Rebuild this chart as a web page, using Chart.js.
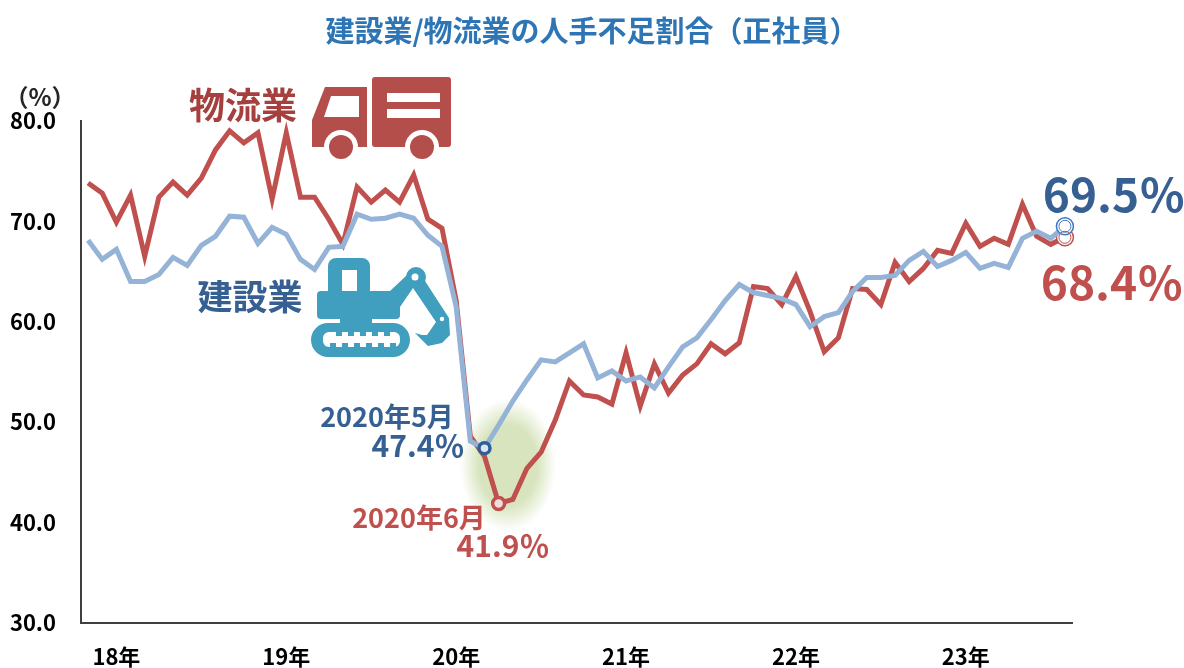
<!DOCTYPE html>
<html lang="ja">
<head>
<meta charset="utf-8">
<title>建設業/物流業の人手不足割合（正社員）</title>
<script src="https://cdn.jsdelivr.net/npm/chart.js@4"></script>
<style>
    html, body { margin: 0; padding: 0; background: #fff; }
    canvas { display: block; }
</style>
</head>
<body>
<canvas id="chart" width="1184" height="668"></canvas>
<script>
const years = ['18', '19', '20', '21', '22', '23'];
const months = [1, 2, 3, 4, 5, 6, 7, 8, 9, 10, 11, 12];
const categories = years.flatMap(y => months.map(m => `${y}年${m}月`)).slice(0, 70);

const logistics = [
    73.8, 72.8, 69.9, 72.6, 66.5, 72.4, 73.9, 72.6, 74.3, 77.1, 79.0, 77.8,
    78.8, 72.2, 78.8, 72.4, 72.4, 70.2, 67.7, 73.4, 71.9, 73.1, 71.9, 74.6,
    70.2, 69.3, 62.1, 48.6, 46.6, 41.9, 42.3, 45.4, 47.0, 50.2, 54.1, 52.7,
    52.5, 51.8, 56.9, 51.6, 55.8, 52.9, 54.7, 55.8, 57.8, 56.8, 57.9, 63.5,
    63.3, 61.7, 64.5, 61.0, 57.0, 58.4, 63.3, 63.2, 61.7, 65.9, 64.0, 65.3,
    67.1, 66.8, 69.8, 67.5, 68.3, 67.7, 71.7, 68.5, 67.7, 68.4
];
const construction = [
    68.1, 66.2, 67.2, 64.0, 64.0, 64.7, 66.4, 65.6, 67.6, 68.5, 70.5, 70.4,
    67.8, 69.4, 68.7, 66.2, 65.2, 67.4, 67.5, 70.7, 70.2, 70.3, 70.7, 70.3,
    68.6, 67.5, 61.5, 48.1, 47.4, 49.7, 52.1, 54.2, 56.2, 56.0, 56.9, 57.8,
    54.4, 55.1, 54.1, 54.5, 53.4, 55.5, 57.5, 58.4, 60.2, 62.1, 63.7, 62.9,
    62.6, 62.3, 61.7, 59.5, 60.5, 60.9, 63.0, 64.4, 64.4, 64.6, 66.1, 67.0,
    65.5, 66.1, 66.9, 65.3, 65.8, 65.4, 68.3, 69.0, 68.3, 69.5
];

const RED = '#c0504d';
const BLUE = '#95b3d7';
const DARK_BLUE = '#376092';
const FONT = '"Noto Sans CJK JP", "Noto Sans", sans-serif';
const LOW_LOGISTICS = logistics.indexOf(41.9);
const LOW_CONSTRUCTION = construction.indexOf(47.4);
const LAST = categories.length - 1;

// free text on the chart: [text, x, y, size, colour]
const notes = [
    ['（%）', 40, 97, 24, '#262626'],
    ['物流業', 243, 105, 36, '#a5403e'],
    ['建設業', 250, 297, 35, DARK_BLUE],
    ['2020年5月', 387, 417, 27, DARK_BLUE],
    ['47.4％', 418, 446, 30, DARK_BLUE],
    ['2020年6月', 419, 518, 27, RED],
    ['41.9％', 503, 546, 30, RED],
    ['69.5％', 1114, 195, 46, DARK_BLUE],
    ['68.4％', 1112, 283, 46, RED]
];

function polygon(ctx, pts) {
    ctx.beginPath();
    pts.forEach(([x, y], i) => i ? ctx.lineTo(x, y) : ctx.moveTo(x, y));
    ctx.closePath();
    ctx.fill();
}

function circle(ctx, x, y, r) {
    ctx.beginPath();
    ctx.arc(x, y, r, 0, Math.PI * 2);
    ctx.fill();
}

function drawTruck(ctx) {
    ctx.fillStyle = '#b44e4b';
    ctx.beginPath();
    ctx.roundRect(372, 77, 79, 70, 3);
    ctx.fill();
    polygon(ctx, [[325, 87], [367, 87], [367, 147], [312, 147], [312, 120]]);

    ctx.fillStyle = '#fff';
    ctx.fillRect(387, 93, 53, 9);
    ctx.fillRect(387, 109, 53, 9);
    polygon(ctx, [[331, 96], [359, 96], [359, 117], [324, 117]]);

    [341, 422].forEach(x => {
        ctx.fillStyle = '#fff';
        circle(ctx, x, 147, 17);
        ctx.fillStyle = '#b44e4b';
        circle(ctx, x, 147, 12);
    });
}

function drawExcavator(ctx) {
    const c = '#409fbf';
    ctx.fillStyle = c;
    ctx.beginPath();
    ctx.roundRect(328, 258, 42, 40, 8);
    ctx.fill();
    ctx.beginPath();
    ctx.roundRect(317, 291, 83, 28, 4);
    ctx.fill();
    ctx.fillRect(340, 317, 32, 7);
    ctx.beginPath();
    ctx.roundRect(311, 323, 99, 34, 17);
    ctx.fill();

    // boom, arm and bucket
    polygon(ctx, [[390, 291], [407, 275], [416, 268], [425, 281], [449, 318], [450, 335], [442, 343],
        [428, 346], [415, 333], [422, 335], [427, 335], [436, 322], [413, 288], [400, 307], [396, 300]]);
    circle(ctx, 416, 277, 10);
    circle(ctx, 442, 319, 6);

    ctx.fillStyle = '#fff';
    ctx.fillRect(342, 270, 15, 21);
    ctx.beginPath();
    ctx.roundRect(323, 332, 77, 15, 6);
    ctx.fill();
    circle(ctx, 415, 277, 3.5);
    circle(ctx, 442, 319, 2.2);

    ctx.fillStyle = c;
    for (let x = 336; x < 395; x += 12) ctx.fillRect(x, 332, 6, 4);
    for (let x = 330; x < 395; x += 12) ctx.fillRect(x, 343, 6, 4);
}

const decorations = {
    id: 'decorations',
    beforeDatasetsDraw(chart) {
        const ctx = chart.ctx;
        // green glow behind the low point
        ctx.save();
        ctx.translate(508, 465);
        ctx.scale(1, 1.38);
        const glow = ctx.createRadialGradient(0, 0, 0, 0, 0, 48);
        glow.addColorStop(0, '#d7e4bd');
        glow.addColorStop(0.6, '#d7e4bd');
        glow.addColorStop(1, 'rgba(215,228,189,0)');
        ctx.fillStyle = glow;
        ctx.beginPath();
        ctx.arc(0, 0, 48, 0, Math.PI * 2);
        ctx.fill();
        ctx.restore();
        ctx.save();
        drawTruck(ctx);
        drawExcavator(ctx);
        ctx.restore();
    },
    afterDatasetsDraw(chart) {
        const ctx = chart.ctx;
        // inner ring of the two end markers
        [[1, '#c0504d'], [0, '#3f78c0']].forEach(([i, colour]) => {
            const p = chart.getDatasetMeta(i).data[LAST];
            ctx.save();
            ctx.strokeStyle = colour;
            ctx.lineWidth = 1;
            ctx.beginPath();
            ctx.arc(p.x, p.y, 6, 0, Math.PI * 2);
            ctx.stroke();
            ctx.restore();
        });
        ctx.save();
        ctx.textBaseline = 'middle';
        ctx.textAlign = 'center';
        notes.forEach(([text, x, y, size, colour]) => {
            ctx.font = `bold ${size}px ${FONT}`;
            ctx.fillStyle = colour;
            ctx.fillText(text, x, y);
        });
        ctx.restore();
    }
};

new Chart(document.getElementById('chart'), {
    type: 'line',
    data: {
        labels: categories,
        datasets: [
            {
                label: '建設業',
                data: construction,
                order: 1,
                borderColor: BLUE,
                borderWidth: 5,
                tension: 0,
                borderJoinStyle: 'miter',
                pointRadius: ctx => ctx.dataIndex === LOW_CONSTRUCTION ? 5.5 : ctx.dataIndex === LAST ? 8.5 : 0,
                pointBorderWidth: ctx => ctx.dataIndex === LAST ? 1.5 : 3.5,
                pointBorderColor: ctx => ctx.dataIndex === LAST ? '#3f78c0' : '#2f5f98',
                pointBackgroundColor: ctx => ctx.dataIndex === LAST ? '#fff' : '#dce6f2'
            },
            {
                label: '物流業',
                data: logistics,
                order: 2,
                borderColor: RED,
                borderWidth: 5,
                tension: 0,
                borderJoinStyle: 'miter',
                pointRadius: ctx => ctx.dataIndex === LOW_LOGISTICS ? 6 : ctx.dataIndex === LAST ? 8.5 : 0,
                pointBorderWidth: ctx => ctx.dataIndex === LAST ? 1.5 : 3.5,
                pointBorderColor: RED,
                pointBackgroundColor: ctx => ctx.dataIndex === LAST ? '#fff' : '#f2dcdb'
            }
        ]
    },
    options: {
        responsive: false,
        animation: false,
        plugins: {
            legend: { display: false },
            tooltip: { enabled: false },
            title: {
                display: true,
                text: '建設業/物流業の人手不足割合（正社員）',
                color: '#2e75b6',
                font: { family: FONT, size: 29, weight: 'bold' },
                padding: { top: 14, bottom: 72 }
            }
        },
        scales: {
            x: {
                offset: true,
                grid: { display: false },
                border: { color: '#404040', width: 2 },
                afterFit(scale) { scale.height = 45; },
                ticks: {
                    autoSkip: false,
                    maxRotation: 0,
                    padding: 12,
                    color: '#000',
                    font: { family: FONT, size: 22, weight: 'bold' },
                    // year label sits on March of each year
                    callback(value) {
                        const label = this.getLabelForValue(value);
                        return label.endsWith('年3月') ? label.slice(0, 3) : '';
                    }
                }
            },
            y: {
                min: 30,
                max: 80,
                grid: { display: false },
                border: { color: '#404040', width: 2 },
                afterFit(scale) { scale.width = 81; },
                ticks: {
                    stepSize: 10,
                    padding: 17,
                    color: '#000',
                    font: { family: FONT, size: 22, weight: 'bold' },
                    callback: value => value.toFixed(1)
                }
            },
            // empty right axis keeps room for the end labels and leaves the title centred
            spacer: {
                position: 'right',
                display: true,
                grid: { display: false },
                border: { display: false },
                ticks: { display: false },
                afterFit(scale) { scale.width = 112; }
            }
        }
    },
    plugins: [decorations]
});
</script>
</body>
</html>
